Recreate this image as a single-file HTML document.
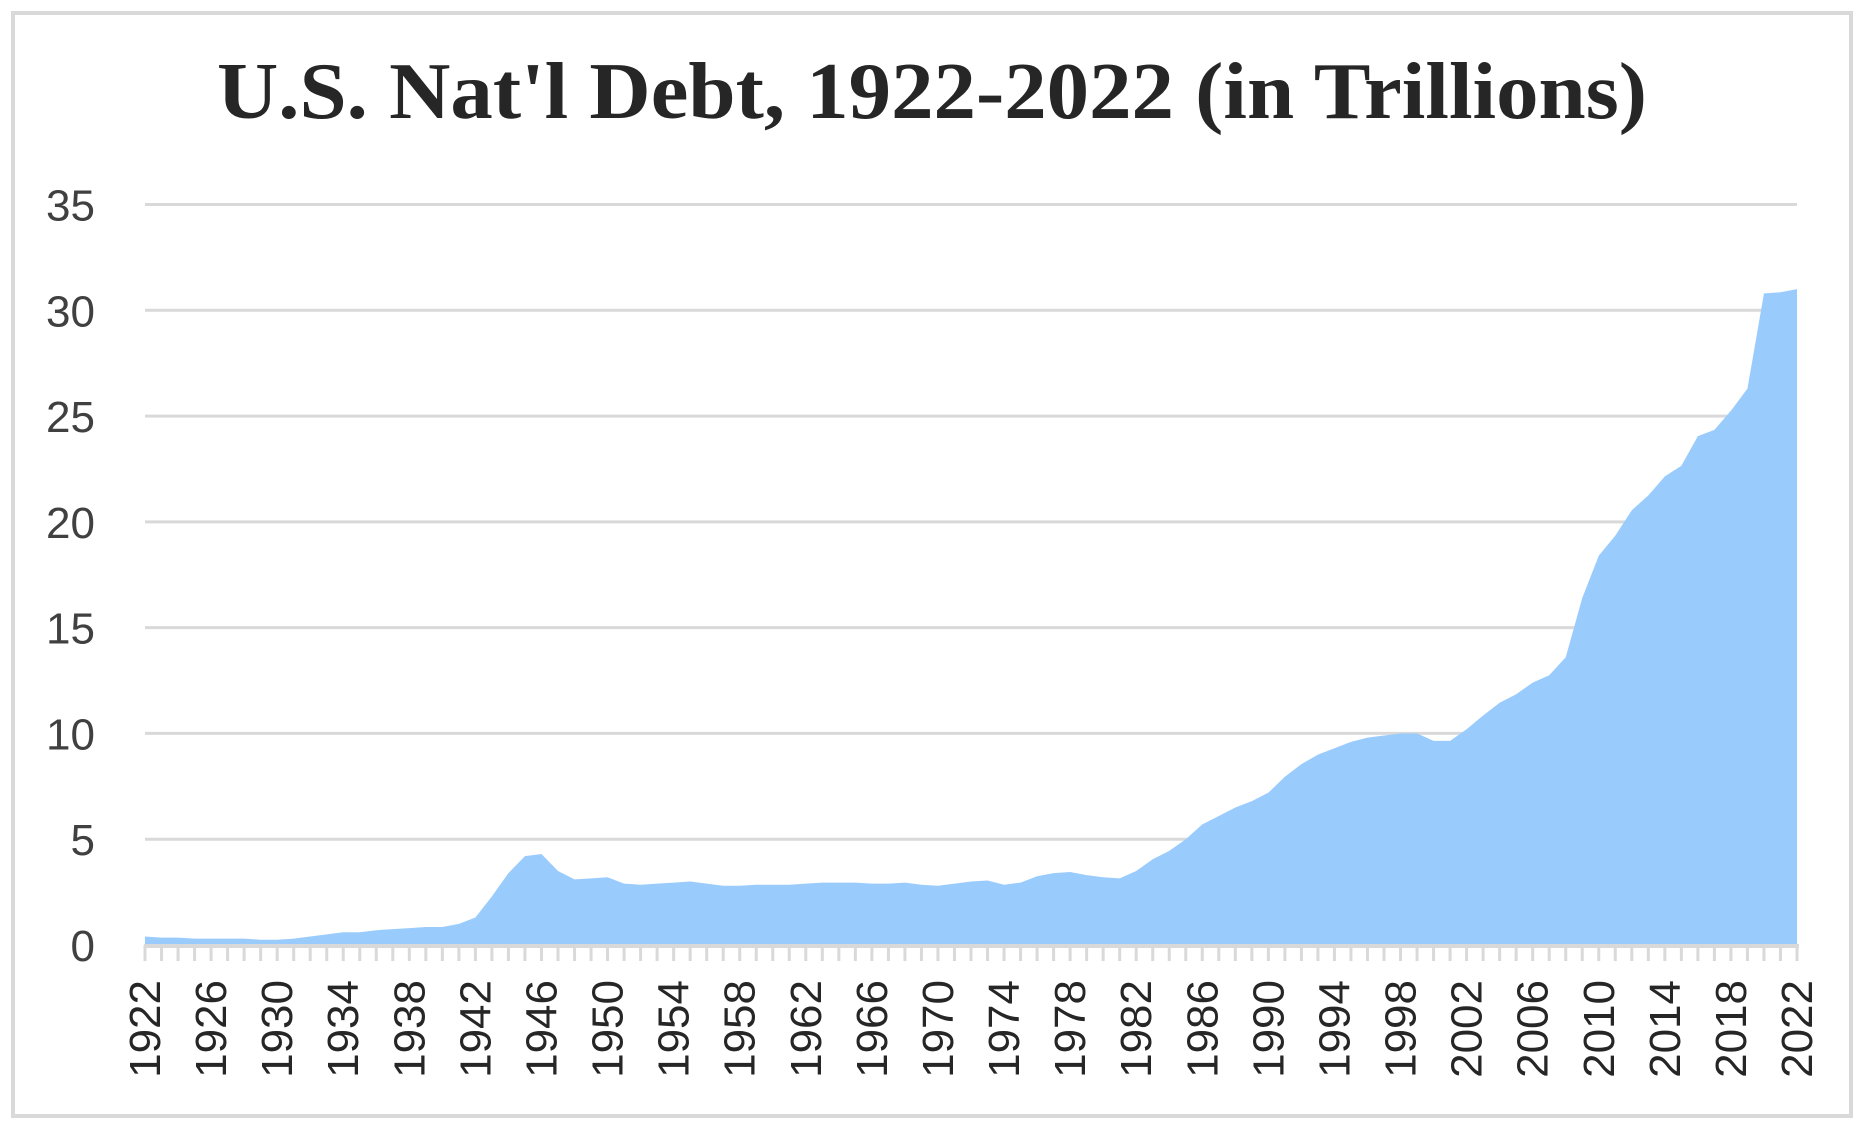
<!DOCTYPE html>
<html><head><meta charset="utf-8"><style>
html,body{margin:0;padding:0;background:#fff;}
</style></head><body>
<svg id="s" width="1864" height="1128" xmlns="http://www.w3.org/2000/svg">
<rect x="13" y="13" width="1838" height="1103" fill="#fff" stroke="#d9d9d9" stroke-width="4"/>
<text x="932" y="118" text-anchor="middle" font-family="Liberation Serif, serif" font-weight="bold" font-size="80" fill="#262626" textLength="1430" lengthAdjust="spacingAndGlyphs">U.S. Nat'l Debt, 1922-2022 (in Trillions)</text>
<g id="g"></g>
</svg>
<script>
var v=[0.4,0.35,0.35,0.3,0.3,0.3,0.3,0.25,0.25,0.3,0.4,0.5,0.6,0.6,0.7,0.75,0.8,0.85,0.85,1.0,1.3,2.3,3.4,4.2,4.3,3.5,3.1,3.15,3.2,2.9,2.85,2.9,2.95,3.0,2.9,2.8,2.8,2.85,2.85,2.85,2.9,2.95,2.95,2.95,2.9,2.9,2.95,2.85,2.8,2.9,3.0,3.05,2.85,2.95,3.25,3.4,3.45,3.3,3.2,3.15,3.5,4.05,4.45,5.0,5.7,6.1,6.5,6.8,7.2,7.95,8.55,9.0,9.3,9.6,9.8,9.9,10.0,10.0,9.65,9.65,10.2,10.85,11.45,11.85,12.4,12.75,13.6,16.4,18.4,19.35,20.55,21.25,22.15,22.65,24.05,24.35,25.25,26.3,30.8,30.85,31.0];
var L=145,R=1797,Y0=945,K=(945-204.5)/35,dx=(R-L)/100,h='';
for(var i=0;i<=7;i++){var y=Y0-i*5*K;
 if(i>0)h+='<line x1="'+L+'" x2="'+R+'" y1="'+y+'" y2="'+y+'" stroke="#d9d9d9" stroke-width="3"/>';
 h+='<text x="95" y="'+(y+16)+'" text-anchor="end" font-family="Liberation Sans, sans-serif" font-size="44" fill="#404040">'+(i*5)+'</text>';}
var p='M'+L+','+Y0;
for(var i=0;i<v.length;i++)p+=' L'+(L+i*dx).toFixed(2)+','+(Y0-v[i]*K).toFixed(2);
p+=' L'+R+','+Y0+' Z';
h+='<path d="'+p+'" fill="#99ccfd"/>';
h+='<line x1="'+(L-1)+'" x2="'+(R+2)+'" y1="'+(Y0+1)+'" y2="'+(Y0+1)+'" stroke="#d9d9d9" stroke-width="4"/>';
for(var i=0;i<=100;i++){var x=L+i*dx;
 h+='<line x1="'+x+'" x2="'+x+'" y1="'+Y0+'" y2="'+(Y0+16)+'" stroke="#d9d9d9" stroke-width="3"/>';
 if(i%4==0)h+='<text transform="translate('+(x+15)+',980) rotate(-90)" text-anchor="end" font-family="Liberation Sans, sans-serif" font-size="44" fill="#262626">'+(1922+i)+'</text>';}
document.getElementById('g').innerHTML=h;
</script>
</body></html>
